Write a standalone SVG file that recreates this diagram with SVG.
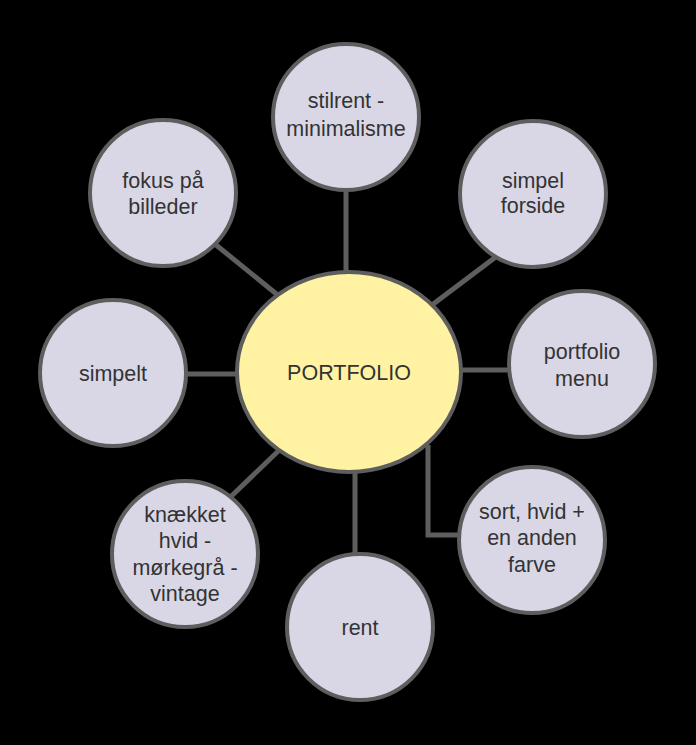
<svg xmlns="http://www.w3.org/2000/svg" width="696" height="745" viewBox="0 0 696 745">
<style>
.bg{fill:#000}
.conn{stroke:#5e5e5e;stroke-width:5;fill:none}
.sat{fill:#d9d7e6;stroke:#5e5e5e;stroke-width:4}
.hub{fill:#fff3a3;stroke:#5e5e5e;stroke-width:4}
text{font-family:"Liberation Sans",Arial,sans-serif;font-size:21.5px;fill:#333;text-anchor:middle}
</style>
<rect class="bg" x="0" y="0" width="696" height="745"/>
<g id="connectors">
<line class="conn" x1="346" y1="150" x2="346" y2="300"/>
<line class="conn" x1="205" y1="236" x2="290" y2="305"/>
<line class="conn" x1="505" y1="250" x2="420" y2="314"/>
<line class="conn" x1="150" y1="374" x2="260" y2="374"/>
<line class="conn" x1="440" y1="370" x2="540" y2="370"/>
<line class="conn" x1="220" y1="507" x2="295" y2="435"/>
<line class="conn" x1="355" y1="440" x2="355" y2="580"/>
<path class="conn" d="M428 445 L428 535 L480 535"/>
</g>
<g id="n-portfolio">
<ellipse class="hub" cx="349" cy="372" rx="112" ry="100"/>
<text x="349" y="380">PORTFOLIO</text>
</g>
<g id="n-stilrent">
<circle class="sat" cx="346" cy="117" r="73"/>
<text x="346" y="108">stilrent -</text>
<text x="346" y="136">minimalisme</text>
</g>
<g id="n-fokus">
<circle class="sat" cx="163" cy="193" r="73"/>
<text x="163" y="188">fokus på</text>
<text x="163" y="214">billeder</text>
</g>
<g id="n-simpelforside">
<circle class="sat" cx="533" cy="194" r="73"/>
<text x="533" y="188">simpel</text>
<text x="533" y="213">forside</text>
</g>
<g id="n-simpelt">
<circle class="sat" cx="113" cy="373" r="73"/>
<text x="113" y="381">simpelt</text>
</g>
<g id="n-menu">
<circle class="sat" cx="582" cy="364" r="73"/>
<text x="582" y="359">portfolio</text>
<text x="582" y="386">menu</text>
</g>
<g id="n-knaekket">
<circle class="sat" cx="185" cy="554" r="73"/>
<text x="185" y="522">knækket</text>
<text x="185" y="548">hvid -</text>
<text x="185" y="575">mørkegrå -</text>
<text x="185" y="601">vintage</text>
</g>
<g id="n-rent">
<circle class="sat" cx="360" cy="627" r="73"/>
<text x="360" y="635">rent</text>
</g>
<g id="n-sort">
<circle class="sat" cx="532" cy="540" r="73"/>
<text x="532" y="519">sort, hvid +</text>
<text x="532" y="545">en anden</text>
<text x="532" y="572">farve</text>
</g>
</svg>
